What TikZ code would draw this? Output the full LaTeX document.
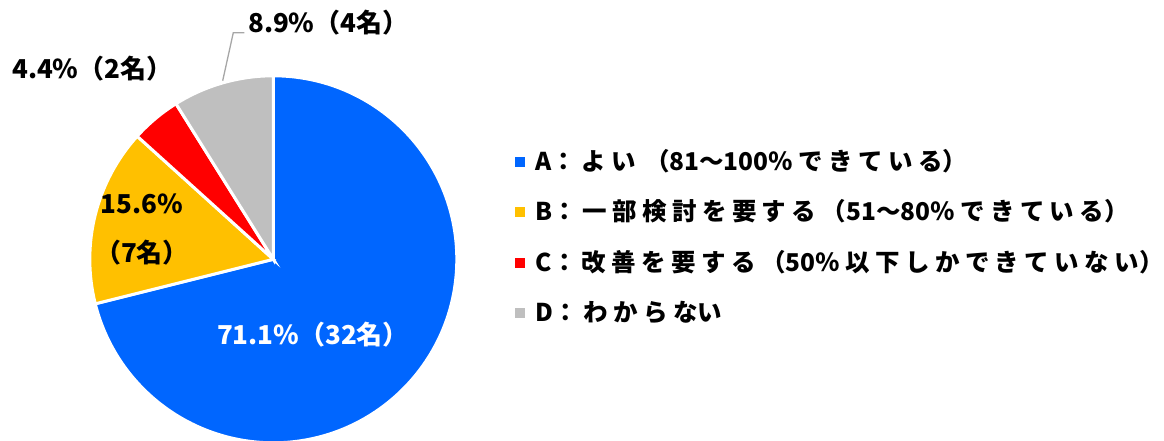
\documentclass[tikz,border=0pt]{standalone}
\usepackage{fontspec}
\setmainfont{Noto Sans CJK JP}
\newfontfamily\jp{Noto Sans CJK JP}
\newfontfamily\jpw{Noto Sans CJK JP}[LetterSpace=22]
\newcommand\lw[1]{{\jpw\bfseries #1}}
\definecolor{cA}{HTML}{0066FF}
\definecolor{cB}{HTML}{FFC000}
\definecolor{cC}{HTML}{FF0000}
\definecolor{cD}{HTML}{BFBFBF}
\definecolor{lead}{HTML}{A6A6A6}
\tikzset{
  slice/.style={draw=white, line width=3pt, line join=miter},
  sq/.style={minimum size=10pt, inner sep=0pt, outer sep=0pt},
  legtext/.style={anchor=base west, inner sep=0pt, font=\jp\bfseries\fontsize{24.5}{28}\selectfont},
  lbl/.style={inner sep=0pt, font=\jp\bfseries\fontsize{26}{30}\selectfont},
}
\begin{document}
\begin{tikzpicture}[x=1pt,y=1pt]
\useasboundingbox (0,0) rectangle (1164,441);
\coordinate (c) at (273.3,181.7);
\def\R{183.5}
% slices
\filldraw[slice, fill=cA] (c) -- ++(90:\R) arc[start angle=90, end angle=-165.96, radius=\R] -- cycle;
\filldraw[slice, fill=cB] (c) -- ++(-165.96:\R) arc[start angle=-165.96, end angle=-222.12, radius=\R] -- cycle;
\filldraw[slice, fill=cC] (c) -- ++(-222.12:\R) arc[start angle=-222.12, end angle=-237.96, radius=\R] -- cycle;
\filldraw[slice, fill=cD] (c) -- ++(-237.96:\R) arc[start angle=-237.96, end angle=-270, radius=\R] -- cycle;
% labels
\node[lbl, anchor=base west] (lblC) at (12,362) {4.4\%（2名）};
\node[lbl, anchor=base west] (lblD) at (248,408.3) {8.9\%（4名）};
\node[lbl, anchor=base] (lblB1) at (142,227) {15.6\%};
\node[lbl, anchor=base] (lblB2) at (142,178) {（7名）};
\node[lbl, anchor=base, text=white] (lblA) at (313,96) {71.1\%（32名）};
% leader line
\coordinate (ld1) at (222.7,360.3);
\coordinate (ld2) at (233.3,408.3);
\draw[lead, line width=1.3pt] (ld1) -- (ld2) -- ([xshift=-3.7pt]lblD.base west);
% legend
\node[sq, fill=cA] (sqA) at (520,279) {};
\node[sq, fill=cB] (sqB) at (520,229) {};
\node[sq, fill=cC] (sqC) at (520,178) {};
\node[sq, fill=cD] (sqD) at (520,128) {};
\node[legtext] (legA) at (535.5,270) {A\lw{：よい}\hspace{9pt}\lw{（}81\lw{～}100\lw{％できている}）};
\node[legtext] (legB) at (535.5,220) {B\lw{：一部検討を要する（}51\lw{～}80\lw{％できている}）};
\node[legtext] (legC) at (535.5,169) {C\lw{：改善を要する（}50\lw{％以下しかできていない}）};
\node[legtext] (legD) at (535.5,119) {D\lw{：わからな}い};
\end{tikzpicture}
\end{document}
